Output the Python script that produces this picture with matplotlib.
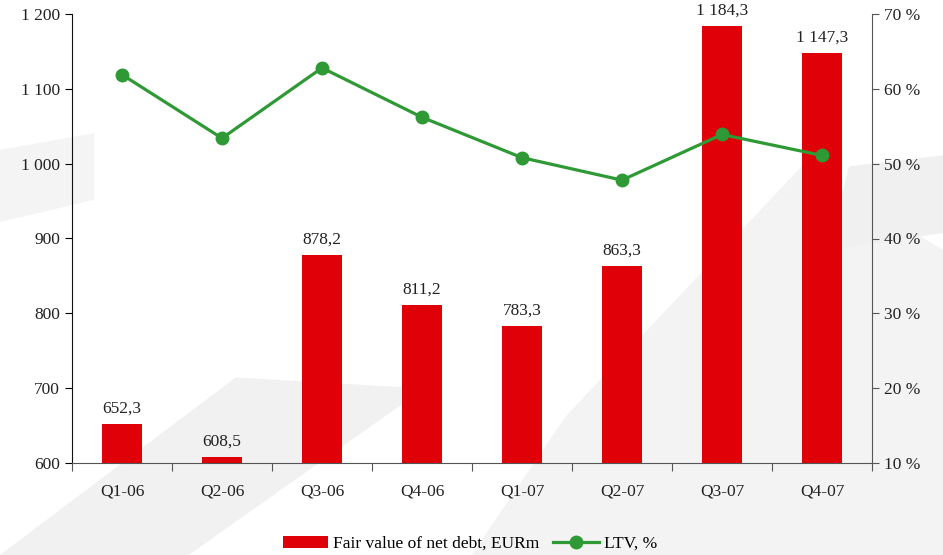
import matplotlib
matplotlib.use("Agg")
import matplotlib.pyplot as plt
from matplotlib.patches import Polygon

quarters = ["Q1-06", "Q2-06", "Q3-06", "Q4-06", "Q1-07", "Q2-07", "Q3-07", "Q4-07"]
net_debt = [652.3, 608.5, 878.2, 811.2, 783.3, 863.3, 1184.3, 1147.3]
ltv = [61.9, 53.4, 62.8, 56.2, 50.8, 47.8, 53.9, 51.1]
left_ticks = [600, 700, 800, 900, 1000, 1100, 1200]
right_ticks = [10, 20, 30, 40, 50, 60, 70]

RED = "#E00008"
GREEN = "#2E9935"
FONT = ["Liberation Serif", "DejaVu Serif"]

plt.rcParams["font.family"] = FONT


def fmt_num(v, decimals=0):
    s = f"{v:,.{decimals}f}"
    return s.replace(",", " ").replace(".", ",")


fig = plt.figure(figsize=(9.43, 5.55), dpi=100)
fig.patch.set_facecolor("white")

# faint architectural backdrop
bg = fig.add_axes([0, 0, 1, 1], zorder=-10)
bg.set_xlim(0, 1)
bg.set_ylim(0, 1)
bg.axis("off")
shapes = [
    ([(0.0, 0.0), (0.2, 0.0), (0.45, 0.3), (0.25, 0.32)], "#f1f1f1"),
    ([(0.5, 0.0), (1.0, 0.0), (1.0, 0.55), (0.85, 0.7), (0.6, 0.25)], "#f3f3f3"),
    ([(0.0, 0.6), (0.1, 0.64), (0.1, 0.76), (0.0, 0.73)], "#f4f4f4"),
    ([(0.88, 0.55), (1.0, 0.58), (1.0, 0.72), (0.9, 0.7)], "#f0f0f0"),
]
for pts, col in shapes:
    bg.add_patch(Polygon(pts, closed=True, facecolor=col, edgecolor="none"))

ax = fig.add_axes([72 / 943, 1 - 463 / 555, 800 / 943, 449 / 555])
ax.patch.set_alpha(0)
x = list(range(len(quarters)))

bars = ax.bar(x, net_debt, width=0.4, color=RED, zorder=2,
              label="Fair value of net debt, EURm")
for xi, v in zip(x, net_debt):
    ax.text(xi, v + 10, fmt_num(v, 1), ha="center", va="bottom",
            fontsize=12.5, color="#222222")

ax.set_xlim(-0.5, len(quarters) - 0.5)
ax.set_ylim(600, 1200)
ax.set_yticks(left_ticks)
ax.set_yticklabels([fmt_num(t) for t in left_ticks])
ax.set_xticks([i - 0.5 for i in range(len(quarters) + 1)])
ax.set_xticklabels([])
ax.set_xticks(x, minor=True)
ax.set_xticklabels(quarters, minor=True)
ax.tick_params(axis="x", which="minor", length=0, pad=15, labelsize=12.5,
               labelcolor="#222222")
ax.tick_params(axis="x", which="major", length=6, color="#555555")
ax.tick_params(axis="y", length=5, labelsize=12.5, labelcolor="#222222")
for side in ("top", "right"):
    ax.spines[side].set_visible(False)
ax.spines["left"].set_color("#111111")
ax.spines["bottom"].set_color("#555555")

ax2 = ax.twinx()
ax2.plot(x, ltv, color=GREEN, lw=2.3, marker="o", ms=9, zorder=3, label="LTV, %")
ax2.set_ylim(10, 70)
ax2.set_yticks(right_ticks)
ax2.set_yticklabels([f"{t} %" for t in right_ticks])
ax2.tick_params(axis="y", length=5, labelsize=12.5, labelcolor="#222222",
                color="#555555")
for side in ("top", "left", "bottom"):
    ax2.spines[side].set_visible(False)
ax2.spines["right"].set_color("#555555")

handles = [bars, ax2.get_lines()[0]]
labels = ["Fair value of net debt, EURm", "LTV, %"]
fig.legend(handles, labels, loc="center", bbox_to_anchor=(470 / 943, 1 - 544 / 555),
           ncol=2, frameon=False, fontsize=12.5, handlelength=2.6,
           handletextpad=0.3, columnspacing=0.8)

fig.savefig("out.png", dpi=100, facecolor=fig.get_facecolor())
